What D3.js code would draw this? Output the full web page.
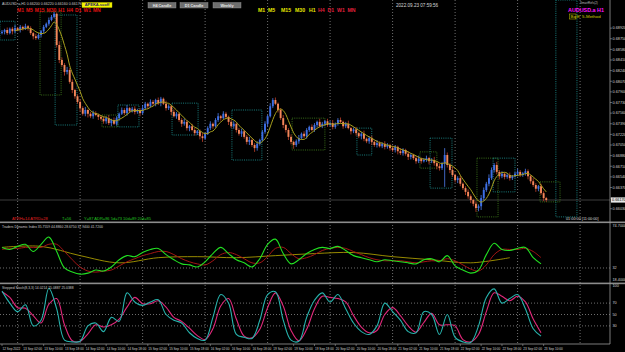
<!DOCTYPE html>
<html lang="en">
<head>
<meta charset="utf-8">
<script src="https://d3js.org/d3.v7.min.js"></script>
<style>
  body { margin: 0; background: #000; }
  svg { display: block; font-family: "Liberation Sans", Arial, sans-serif; }
</style>
</head>
<body>
<svg width="625" height="352"></svg>
<script>
// ---- AUDUSD.a H1 candles (open = previous close) ----
const firstOpen = 0.6884;
const closes = [
  0.6886,0.6889,0.6884,0.6891,0.6887,0.6892,0.6889,0.6894,0.6891,0.6895,
  0.6892,0.6884,0.6879,0.6876,0.6881,0.6887,0.6894,0.6899,0.6905,0.6910,
  0.6915,0.6865,0.6841,0.6833,0.6822,0.6825,0.6806,0.6793,0.6783,0.6774,
  0.6764,0.6755,0.6761,0.6755,0.6751,0.6756,0.6753,0.6750,0.6747,0.6743,
  0.6748,0.6740,0.6745,0.6739,0.6748,0.6755,0.6761,0.6756,0.6764,0.6759,
  0.6763,0.6758,0.6761,0.6756,0.6764,0.6771,0.6767,0.6774,0.6771,0.6777,
  0.6772,0.6779,0.6771,0.6764,0.6767,0.6758,0.6751,0.6755,0.6745,0.6739,
  0.6742,0.6732,0.6735,0.6729,0.6724,0.6727,0.6719,0.6716,0.6723,0.6732,
  0.6739,0.6735,0.6745,0.6751,0.6748,0.6755,0.6750,0.6742,0.6735,0.6739,
  0.6729,0.6723,0.6727,0.6718,0.6710,0.6713,0.6705,0.6700,0.6707,0.6713,
  0.6726,0.6739,0.6751,0.6767,0.6777,0.6771,0.6761,0.6748,0.6737,0.6729,
  0.6718,0.6710,0.6705,0.6711,0.6716,0.6723,0.6719,0.6729,0.6734,0.6729,
  0.6737,0.6742,0.6735,0.6739,0.6743,0.6737,0.6740,0.6734,0.6739,0.6745,
  0.6742,0.6735,0.6739,0.6732,0.6727,0.6730,0.6724,0.6719,0.6723,0.6715,
  0.6711,0.6716,0.6710,0.6705,0.6708,0.6703,0.6707,0.6702,0.6705,0.6700,
  0.6697,0.6702,0.6695,0.6692,0.6697,0.6691,0.6686,0.6689,0.6684,0.6679,
  0.6683,0.6679,0.6681,0.6684,0.6679,0.6681,0.6676,0.6671,0.6668,0.6675,
  0.6689,0.6673,0.6665,0.6657,0.6649,0.6652,0.6643,0.6636,0.6630,0.6623,
  0.6617,0.6611,0.6604,0.6607,0.6620,0.6633,0.6643,0.6652,0.6665,0.6673,
  0.6662,0.6655,0.6659,0.6654,0.6657,0.6652,0.6655,0.6659,0.6662,0.6657,
  0.6660,0.6663,0.6655,0.6647,0.6641,0.6635,0.6639,0.6628,0.6620,0.6617
];
// wick lengths beyond the body, in pips
const wickUp = [
  3,2,4,2,3,5,2,3,2,4, 2,3,2,4,3,2,3,2,4,3, 3,2,6,4,3,5,3,4,2,3, 4,3,5,2,3,4,3,2,3,4,
  3,5,2,4,3,2,4,3,5,2, 3,4,2,3,5,3,2,4,3,2, 4,3,2,5,3,2,4,3,2,3, 5,3,2,4,3,2,3,5,2,3,
  4,2,3,5,2,4,3,2,3,4, 2,3,4,2,3,5,2,3,4,2, 3,4,2,5,3,4,2,3,5,2, 3,4,2,3,5,2,4,3,2,4,
  3,2,5,3,2,4,3,5,2,3, 4,2,3,5,2,3,4,2,3,5, 2,3,4,2,5,3,2,4,3,2, 4,3,2,5,3,2,4,3,2,3,
  5,2,3,4,2,3,5,2,4,3, 11,4,3,5,2,3,4,2,3,4, 3,2,4,3,5,4,3,6,4,3, 5,3,4,2,3,4,2,3,5,3,
  2,4,3,2,5,3,2,4,3,2
];
const wickDn = [
  2,4,3,2,5,3,2,4,3,2, 4,3,5,3,2,4,3,2,3,2, 2,4,5,3,6,4,3,5,4,3, 5,3,4,6,3,4,2,5,3,4,
  4,3,5,2,3,4,2,3,4,3, 2,4,3,5,2,3,4,2,3,4, 3,5,2,4,3,5,2,4,3,5, 3,4,5,2,4,3,5,6,3,2,
  3,4,2,3,4,2,3,5,3,4, 4,3,5,3,4,5,3,6,4,3, 2,3,4,2,3,2,4,3,5,4, 5,4,6,3,4,2,3,4,3,2,
  3,4,2,3,4,3,2,4,3,3, 2,4,3,2,5,3,4,3,5,4, 3,4,5,3,4,2,3,4,3,4, 3,4,5,3,4,3,5,4,3,4,
  3,4,2,3,5,3,4,5,4,3, 37,4,5,3,4,5,4,3,5,4, 5,4,6,5,6,4,3,4,3,4, 4,5,3,4,3,4,3,2,4,3,
  3,4,5,4,3,5,4,3,5,3
];
const maPeriod = 6;

// price axis and time axis labels
const priceTicks = [0.6892,0.6875,0.6858,0.6841,0.6824,0.6807,0.6790,0.6773,0.6756,
  0.6739,0.6722,0.6705,0.6688,0.6671,0.6654,0.6637,0.6620,0.6603];
const timeLabels = ["12 Sep 2022","13 Sep 02:00","13 Sep 10:00","13 Sep 18:00","14 Sep 02:00",
  "14 Sep 10:00","14 Sep 18:00","15 Sep 02:00","15 Sep 10:00","15 Sep 18:00","16 Sep 02:00",
  "16 Sep 10:00","16 Sep 18:00","19 Sep 02:00","19 Sep 10:00","19 Sep 18:00","20 Sep 02:00",
  "20 Sep 10:00","20 Sep 18:00","21 Sep 02:00","21 Sep 10:00","21 Sep 18:00","22 Sep 02:00",
  "22 Sep 10:00","22 Sep 18:00","23 Sep 02:00","23 Sep 10:00"];
const labelEvery = 8;            // bars between time labels
const dayStarts = [6,30,54,78,102,126,150,174,198,222]; // bar index of the grid lines

// dotted zones drawn on the chart: bars from/to, price hi/lo
const zones = [
  {c:"cyan",  b0:-0.8, b1:5,     hi:0.6903, lo:0.6873},
  {c:"green", b0:14.6, b1:22.7,  hi:0.6918, lo:0.6785},
  {c:"cyan",  b0:20.4, b1:28.8,  hi:0.6913, lo:0.6737},
  {c:"green", b0:38.4, b1:44.5,  hi:0.6753, lo:0.6734},
  {c:"cyan",  b0:44.5, b1:52.6,  hi:0.6769, lo:0.6734},
  {c:"cyan",  b0:65.3, b1:75.3,  hi:0.6772, lo:0.6721},
  {c:"cyan",  b0:88.3, b1:99.8,  hi:0.6761, lo:0.6681},
  {c:"green", b0:111.4,b1:124,   hi:0.6748, lo:0.6697},
  {c:"cyan",  b0:136.3,b1:142,   hi:0.6732, lo:0.6689},
  {c:"green", b0:160.5,b1:167,   hi:0.6694, lo:0.6668},
  {c:"cyan",  b0:164.4,b1:172.8, hi:0.6716, lo:0.6636},
  {c:"green", b0:182.4,b1:190.5, hi:0.6684, lo:0.6590},
  {c:"cyan",  b0:188.6,b1:197,   hi:0.6684, lo:0.6630},
  {c:"green", b0:206.6,b1:214.3, hi:0.6646, lo:0.6614},
  {c:"cyan",  b0:212.7,b1:220.8, hi:0.6937, lo:0.6590}
];

// Traders Dynamic Index, one value every 3 bars
const tdiStep = 3;
const tdiGreen = [52,50,53,55,48,55,62,48,32,28, 26,27,30,29,33,40,44,43,47,50,
  51,45,40,36,35,33,38,46,52,46, 40,37,33,41,55,60,46,36,40,46, 50,52,51,53,49,44,42,40,38,40,
  39,38,37,36,40,41,38,44,34,30, 27,30,45,56,50,49,51,52,42,36];
const tdiRed = [50,51,51,52,52,52,55,55,48,40, 33,29,28,29,30,34,38,41,44,46,
  48,48,45,41,38,36,35,39,45,47, 45,41,37,37,43,51,52,46,41,42, 45,49,51,52,51,48,45,42,40,39,
  39,39,38,37,38,39,39,41,39,35, 31,29,35,45,50,50,50,51,48,42];
const tdiMidStep = 15;
const tdiMid = [52,53,44,37,42,43,42,44,46,47,43,40,37,42];

// Stochastic (8,3,3), one value every 3 bars
const stoStep = 3;
const stoMain = [91,70,55,67,30,40,96,60,5,2, 3,30,35,20,45,38,88,72,66,72,
  76,50,40,35,18,8,5,45,85,70, 15,10,8,40,85,90,40,5,3,45, 75,88,72,85,60,35,20,15,30,70,
  55,40,20,18,55,50,15,50,10,2, 1,30,80,95,70,78,85,60,25,12];
const stoSignal = [90,80,62,61,48,35,68,78,32,4, 3,16,32,28,32,42,63,80,69,69,
  74,63,45,38,26,13,6,25,65,78, 42,12,9,24,62,88,65,22,4,24, 60,82,80,78,72,48,28,18,22,50,
  62,48,30,19,36,52,32,32,30,6, 2,15,55,88,82,74,82,72,42,18];
const stoLevels = [70,50,30];

// ---------------------------------------------------------------
const W = 625, H = 352, axisX = 610;
const mainBottom = 222, tdiTop = 224, tdiBottom = 282, stoBottom = 344;
const svg = d3.select("svg");
svg.append("rect").attr("width", W).attr("height", H).attr("fill", "#000");

const x = d3.scaleLinear().domain([0, 100]).range([2, 262.4]);
const y = d3.scaleLinear().domain([0.6937, 0.65818]).range([0, mainBottom]);
const yTdi = d3.scaleLinear().domain([18.4, 74.7]).range([tdiBottom, tdiTop]);
const ySto = d3.scaleLinear().domain([0, 100]).range([343, 286]);

const defs = svg.append("defs");
defs.append("clipPath").attr("id", "cMain").append("rect")
  .attr("x", 0).attr("y", 0).attr("width", axisX).attr("height", mainBottom - 1);
defs.append("clipPath").attr("id", "cTdi").append("rect")
  .attr("x", 0).attr("y", tdiTop - 1).attr("width", axisX).attr("height", tdiBottom - tdiTop + 1);
defs.append("clipPath").attr("id", "cSto").append("rect")
  .attr("x", 0).attr("y", 284).attr("width", axisX).attr("height", stoBottom - 284);

// grid (vertical dotted lines at day starts)
svg.append("g").selectAll("line").data(dayStarts).join("line")
  .attr("x1", d => x(d)).attr("x2", d => x(d))
  .attr("y1", 0).attr("y2", stoBottom)
  .attr("stroke", "#8a8a8a").attr("stroke-width", 0.8)
  .attr("stroke-dasharray", "1,2");

const main = svg.append("g").attr("clip-path", "url(#cMain)");

// bid line
const lastClose = closes[closes.length - 1];
main.append("line").attr("x1", 0).attr("x2", axisX)
  .attr("y1", y(lastClose)).attr("y2", y(lastClose))
  .attr("stroke", "#3c3c3c").attr("stroke-width", 1);

// dotted zones
main.append("g").selectAll("rect").data(zones).join("rect")
  .attr("x", d => x(d.b0)).attr("width", d => x(d.b1) - x(d.b0))
  .attr("y", d => y(d.hi)).attr("height", d => y(d.lo) - y(d.hi))
  .attr("fill", "none")
  .attr("stroke", d => d.c === "green" ? "#3f7a1c" : "#1c8c8c")
  .attr("stroke-width", 0.9).attr("stroke-dasharray", "1,1.2");

// candles
const bars = closes.map((c, i) => {
  const o = i ? closes[i - 1] : firstOpen;
  return { i, o, c,
    h: Math.max(o, c) + wickUp[i] * 1e-4,
    l: Math.min(o, c) - wickDn[i] * 1e-4 };
});
const upCol = "#3d6fe6", dnCol = "#f2875a";
const cg = main.append("g");
cg.selectAll("line").data(bars).join("line")
  .attr("x1", d => x(d.i)).attr("x2", d => x(d.i))
  .attr("y1", d => y(d.h)).attr("y2", d => y(d.l))
  .attr("stroke", d => d.c >= d.o ? "#4f7ff0" : "#c2402a")
  .attr("stroke-width", 0.8);
cg.selectAll("rect").data(bars).join("rect")
  .attr("x", d => x(d.i) - 0.95).attr("width", 1.9)
  .attr("y", d => y(Math.max(d.o, d.c)))
  .attr("height", d => Math.max(0.8, Math.abs(y(d.o) - y(d.c))))
  .attr("fill", d => d.c >= d.o ? upCol : dnCol);

// moving average
const ma = d3.range(maPeriod - 1, closes.length).map(i => ({
  i, v: d3.mean(closes.slice(i - maPeriod + 1, i + 1)) }));
main.append("path").datum(ma)
  .attr("d", d3.line().x(d => x(d.i)).y(d => y(d.v)).curve(d3.curveMonotoneX))
  .attr("fill", "none").attr("stroke", "#a8a01e").attr("stroke-width", 1);

// ---- Traders Dynamic Index panel ----
const tdi = svg.append("g").attr("clip-path", "url(#cTdi)");
tdi.append("line").attr("x1", 0).attr("x2", axisX)
  .attr("y1", yTdi(32)).attr("y2", yTdi(32))
  .attr("stroke", "#8a8a8a").attr("stroke-width", 0.8).attr("stroke-dasharray", "1,2");
function tdiLine(arr, step, col, w) {
  tdi.append("path").datum(arr)
    .attr("d", d3.line().x((d, k) => x(k * step)).y(d => yTdi(d)).curve(d3.curveCatmullRom))
    .attr("fill", "none").attr("stroke", col).attr("stroke-width", w);
}
tdiLine(tdiMid, tdiMidStep, "#a89a00", 0.9);
tdiLine(tdiRed, tdiStep, "#a31515", 1);
tdiLine(tdiGreen, tdiStep, "#22e022", 1.1);

// ---- Stochastic panel ----
const sto = svg.append("g").attr("clip-path", "url(#cSto)");
sto.selectAll("line").data(stoLevels).join("line")
  .attr("x1", 0).attr("x2", axisX)
  .attr("y1", d => ySto(d)).attr("y2", d => ySto(d))
  .attr("stroke", "#8a8a8a").attr("stroke-width", 0.8).attr("stroke-dasharray", "1,2");
function stoLine(arr, col, w) {
  sto.append("path").datum(arr)
    .attr("d", d3.line().x((d, k) => x(k * stoStep)).y(d => ySto(d)).curve(d3.curveCatmullRom))
    .attr("fill", "none").attr("stroke", col).attr("stroke-width", w);
}
stoLine(stoSignal, "#e0287a", 1.1);
stoLine(stoMain, "#27b3ad", 1.1);

// ---- separators and axes ----
svg.append("rect").attr("x", 0).attr("y", 221.5).attr("width", W).attr("height", 1.6).attr("fill", "#8c8c8c");
svg.append("rect").attr("x", 0).attr("y", 282.6).attr("width", W).attr("height", 1.6).attr("fill", "#8c8c8c");
svg.append("line").attr("x1", axisX).attr("x2", axisX).attr("y1", 0).attr("y2", stoBottom)
  .attr("stroke", "#9a9a9a").attr("stroke-width", 0.8);
svg.append("line").attr("x1", 0).attr("x2", axisX).attr("y1", stoBottom).attr("y2", stoBottom)
  .attr("stroke", "#9a9a9a").attr("stroke-width", 0.8);

const axisTxt = "#d0d0d0";
const pt = svg.append("g").attr("font-size", 3.8).attr("fill", axisTxt);
priceTicks.forEach(p => {
  pt.append("line").attr("x1", axisX).attr("x2", axisX + 2).attr("y1", y(p)).attr("y2", y(p))
    .attr("stroke", "#9a9a9a").attr("stroke-width", 0.6);
  // the current price tag covers a tick label that sits too close to it
  if (Math.abs(y(p) - y(closes[closes.length - 1])) > 5)
    pt.append("text").attr("x", axisX + 2.5).attr("y", y(p) + 1.3).text(p.toFixed(5));
});
// current price tag
svg.append("rect").attr("x", axisX + 1).attr("y", y(lastClose) - 2.6)
  .attr("width", 14).attr("height", 5.2).attr("fill", "#e8e8e8");
svg.append("text").attr("x", axisX + 2).attr("y", y(lastClose) + 1.4)
  .attr("font-size", 3.8).attr("fill", "#000").text(lastClose.toFixed(5));

// indicator axis labels
const ia = svg.append("g").attr("font-size", 3.8).attr("fill", axisTxt);
ia.append("text").attr("x", axisX + 2.5).attr("y", tdiTop + 2.5).text(yTdi.domain()[1].toFixed(4));
ia.append("text").attr("x", axisX + 2.5).attr("y", yTdi(32) + 1.3).text("32");
ia.append("text").attr("x", axisX + 2.5).attr("y", tdiBottom - 0.6).text(yTdi.domain()[0].toFixed(4));
ia.append("text").attr("x", axisX + 2.5).attr("y", ySto(100) + 1.3).text("100");
stoLevels.forEach(v => ia.append("text").attr("x", axisX + 2.5).attr("y", ySto(v) + 1.3).text(v));

// time labels
const tl = svg.append("g").attr("font-size", 3.15).attr("fill", axisTxt);
timeLabels.forEach((t, k) => {
  const xx = x(k * labelEvery);
  tl.append("line").attr("x1", xx).attr("x2", xx).attr("y1", stoBottom).attr("y2", stoBottom + 2)
    .attr("stroke", "#9a9a9a").attr("stroke-width", 0.6);
  tl.append("text").attr("x", xx + 0.5).attr("y", 350).text(t);
});

// ---- overlays ----
svg.append("text").attr("x", 2).attr("y", 5).attr("font-size", 3.6).attr("fill", "#c8c8c8")
  .text("AUDUSD.a,H1  0.66200 0.66220 0.66160 0.66170");
svg.append("text").attr("x", 17).attr("y", 12).attr("font-size", 5).attr("font-weight", "bold")
  .attr("fill", "#e01010").attr("word-spacing", 0.6).text("M1 M5 M15 M30 H1 H4 D1 W1 MN");
svg.append("rect").attr("x", 82).attr("y", 2.5).attr("width", 30).attr("height", 5)
  .attr("fill", "#f2f200").attr("stroke", "#c8c800").attr("stroke-width", 0.4);
svg.append("text").attr("x", 97).attr("y", 6.4).attr("text-anchor", "middle").attr("font-size", 4)
  .attr("font-weight", "bold").attr("fill", "#1a1a6a").text("APEKA.scoff");

[["H4 Candle", 148], ["D1 Candle", 180], ["Weekly", 213]].forEach(([t, bx]) => {
  svg.append("rect").attr("x", bx).attr("y", 2.5).attr("width", 28).attr("height", 5.5)
    .attr("fill", "#6e6e6e").attr("stroke", "#9a9a9a").attr("stroke-width", 0.4);
  svg.append("text").attr("x", bx + 14).attr("y", 6.6).attr("text-anchor", "middle")
    .attr("font-size", 3.8).attr("font-weight", "bold").attr("fill", "#e8e8e8").text(t);
});

[["M1",258,"#e6e600"],["M5",268,"#e6e600"],["M15",281,"#e6e600"],["M30",295,"#e6e600"],
 ["H1",309,"#e6e600"],["H4",318,"#e0203c"],["D1",327.5,"#e0203c"],["W1",337,"#e0203c"],["MN",347.5,"#e0203c"]]
  .forEach(([t, tx, col]) => svg.append("text").attr("x", tx).attr("y", 12.3)
    .attr("font-size", 5.2).attr("font-weight", "bold").attr("fill", col).text(t));

svg.append("text").attr("x", 396).attr("y", 7).attr("font-size", 4.6).attr("fill", "#d8d8d8")
  .text("2022.09.23 07:59:56");
svg.append("text").attr("x", 580).attr("y", 4).attr("font-size", 3).attr("fill", "#bdbdbd")
  .text("SmartRefs(2)");
svg.append("text").attr("x", 568).attr("y", 11.6).attr("font-size", 5.4).attr("font-weight", "bold")
  .attr("fill", "#ff10ff").text("AUDUSD.a H1");
svg.append("rect").attr("x", 569.5).attr("y", 14).attr("width", 6.5).attr("height", 5)
  .attr("fill", "none").attr("stroke", "#c8c800").attr("stroke-width", 0.5);
svg.append("text").attr("x", 570.5).attr("y", 18).attr("font-size", 4.4).attr("fill", "#d0d000")
  .text("Bq E' 5-Method");

// price data footer in main panel
svg.append("text").attr("x", 12).attr("y", 220).attr("font-size", 4).attr("fill", "#e02020")
  .text("ATRH=14  ATRD=28");
svg.append("text").attr("x", 62).attr("y", 220).attr("font-size", 4).attr("fill", "#22c422")
  .text("T=56");
svg.append("text").attr("x", 84).attr("y", 220).attr("font-size", 4).attr("fill", "#22c422")
  .text("Y=87  ADR=86  5d=73  10d=89  20d=85");
svg.append("text").attr("x", 566).attr("y", 220).attr("font-size", 3.8).attr("fill", "#d8d8d8")
  .text("01:00:00 [11:00:00]");

svg.append("text").attr("x", 2).attr("y", 228).attr("font-size", 3.4).attr("fill", "#c8c8c8")
  .text("Traders Dynamic Index 35.7559 44.8860 28.6750 37.9400 41.7200");
svg.append("text").attr("x", 2).attr("y", 288.5).attr("font-size", 3.4).attr("fill", "#c8c8c8")
  .text("Stepped Stoch(8,3,3) 14.0214 15.0887 25.0388");
</script>
</body>
</html>
